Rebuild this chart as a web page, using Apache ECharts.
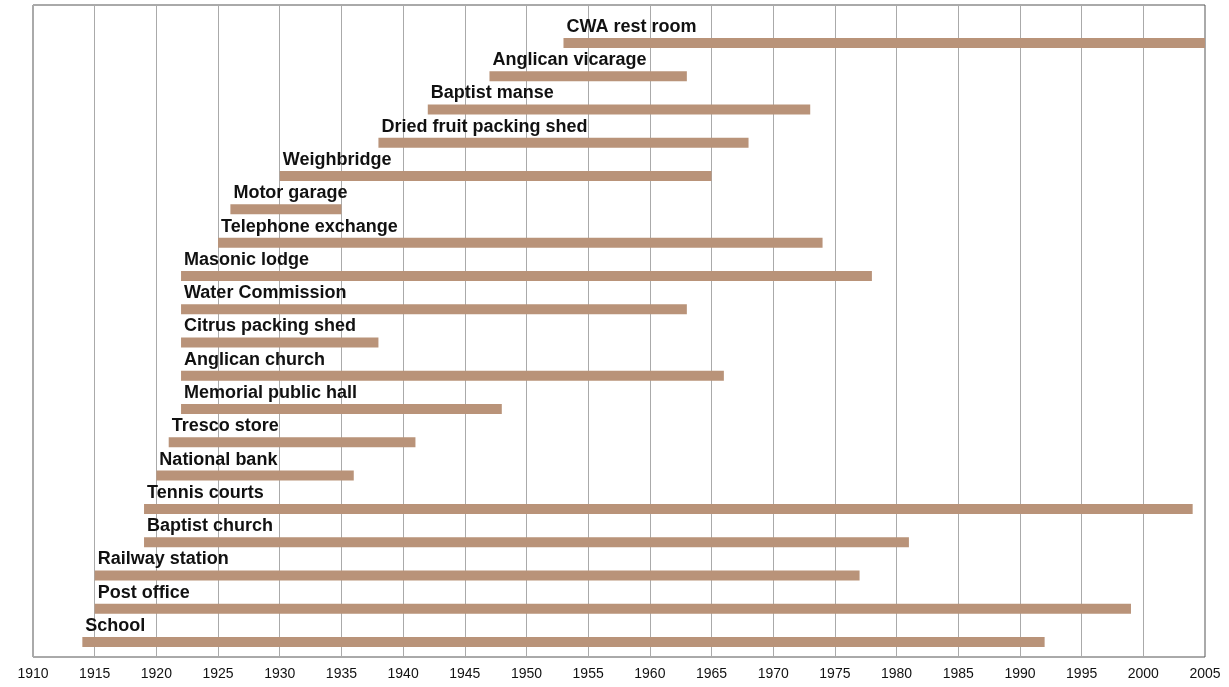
<!DOCTYPE html>
<html><head><meta charset="utf-8">
<script src="https://cdn.jsdelivr.net/npm/echarts@6/dist/echarts.min.js"></script>
<style>html,body{margin:0;padding:0;background:#fff}#chart-container{width:1229px;height:687px}</style>
</head><body><div id="chart-container"></div>
<script>
var buildings = ['School', 'Post office', 'Railway station', 'Baptist church', 'Tennis courts',
  'National bank', 'Tresco store', 'Memorial public hall', 'Anglican church', 'Citrus packing shed',
  'Water Commission', 'Masonic lodge', 'Telephone exchange', 'Motor garage', 'Weighbridge',
  'Dried fruit packing shed', 'Baptist manse', 'Anglican vicarage', 'CWA rest room'];
var openYear = [1914, 1915, 1915, 1919, 1919, 1920, 1921, 1922, 1922, 1922, 1922, 1922, 1925, 1926, 1930, 1938, 1942, 1947, 1953];
var closeYear = [1992, 1999, 1977, 1981, 2004, 1936, 1941, 1948, 1966, 1938, 1963, 1978, 1974, 1935, 1965, 1968, 1973, 1963, 2005];

var rows = buildings.map(function (b, i) { return [openYear[i], i, closeYear[i]]; });

var myChart = echarts.init(document.getElementById('chart-container'), null, { renderer: 'canvas' });
var option = {
  animation: false,
  grid: { left: 33, right: 24, top: 5, bottom: 30, show: true, backgroundColor: 'transparent',
    borderColor: '#555', borderWidth: 1 },
  xAxis: {
    type: 'value', min: 1910, max: 2005, interval: 5,
    axisLine: { show: false }, axisTick: { show: false },
    axisLabel: { color: '#111', fontSize: 14, fontFamily: 'Liberation Sans', margin: 10,
      formatter: function (v) { return String(v); } },
    splitLine: { lineStyle: { color: '#aaa', width: 1 } }
  },
  yAxis: {
    type: 'value', min: -0.45, max: 19.14, show: false, splitLine: { show: false }
  },
  series: [{
    type: 'custom',
    data: rows,
    encode: { x: [0, 2], y: 1 },
    clip: false,
    renderItem: function (params, api) {
      var i = params.dataIndex;
      var a = api.coord([api.value(0), api.value(1)]);
      var b = api.coord([api.value(2), api.value(1)]);
      return {
        type: 'group',
        children: [
          { type: 'rect', shape: { x: a[0], y: a[1] - 5, width: b[0] - a[0], height: 10 },
            style: { fill: '#b99379' } },
          { type: 'text', x: a[0] + 3, y: a[1] - 16,
            style: { text: buildings[i], fill: '#111', fontSize: 18, fontWeight: 600,
              fontFamily: 'Liberation Sans', verticalAlign: 'middle' } }
        ]
      };
    }
  }]
};
myChart.setOption(option);
window.addEventListener('resize', myChart.resize);
</script></body></html>
